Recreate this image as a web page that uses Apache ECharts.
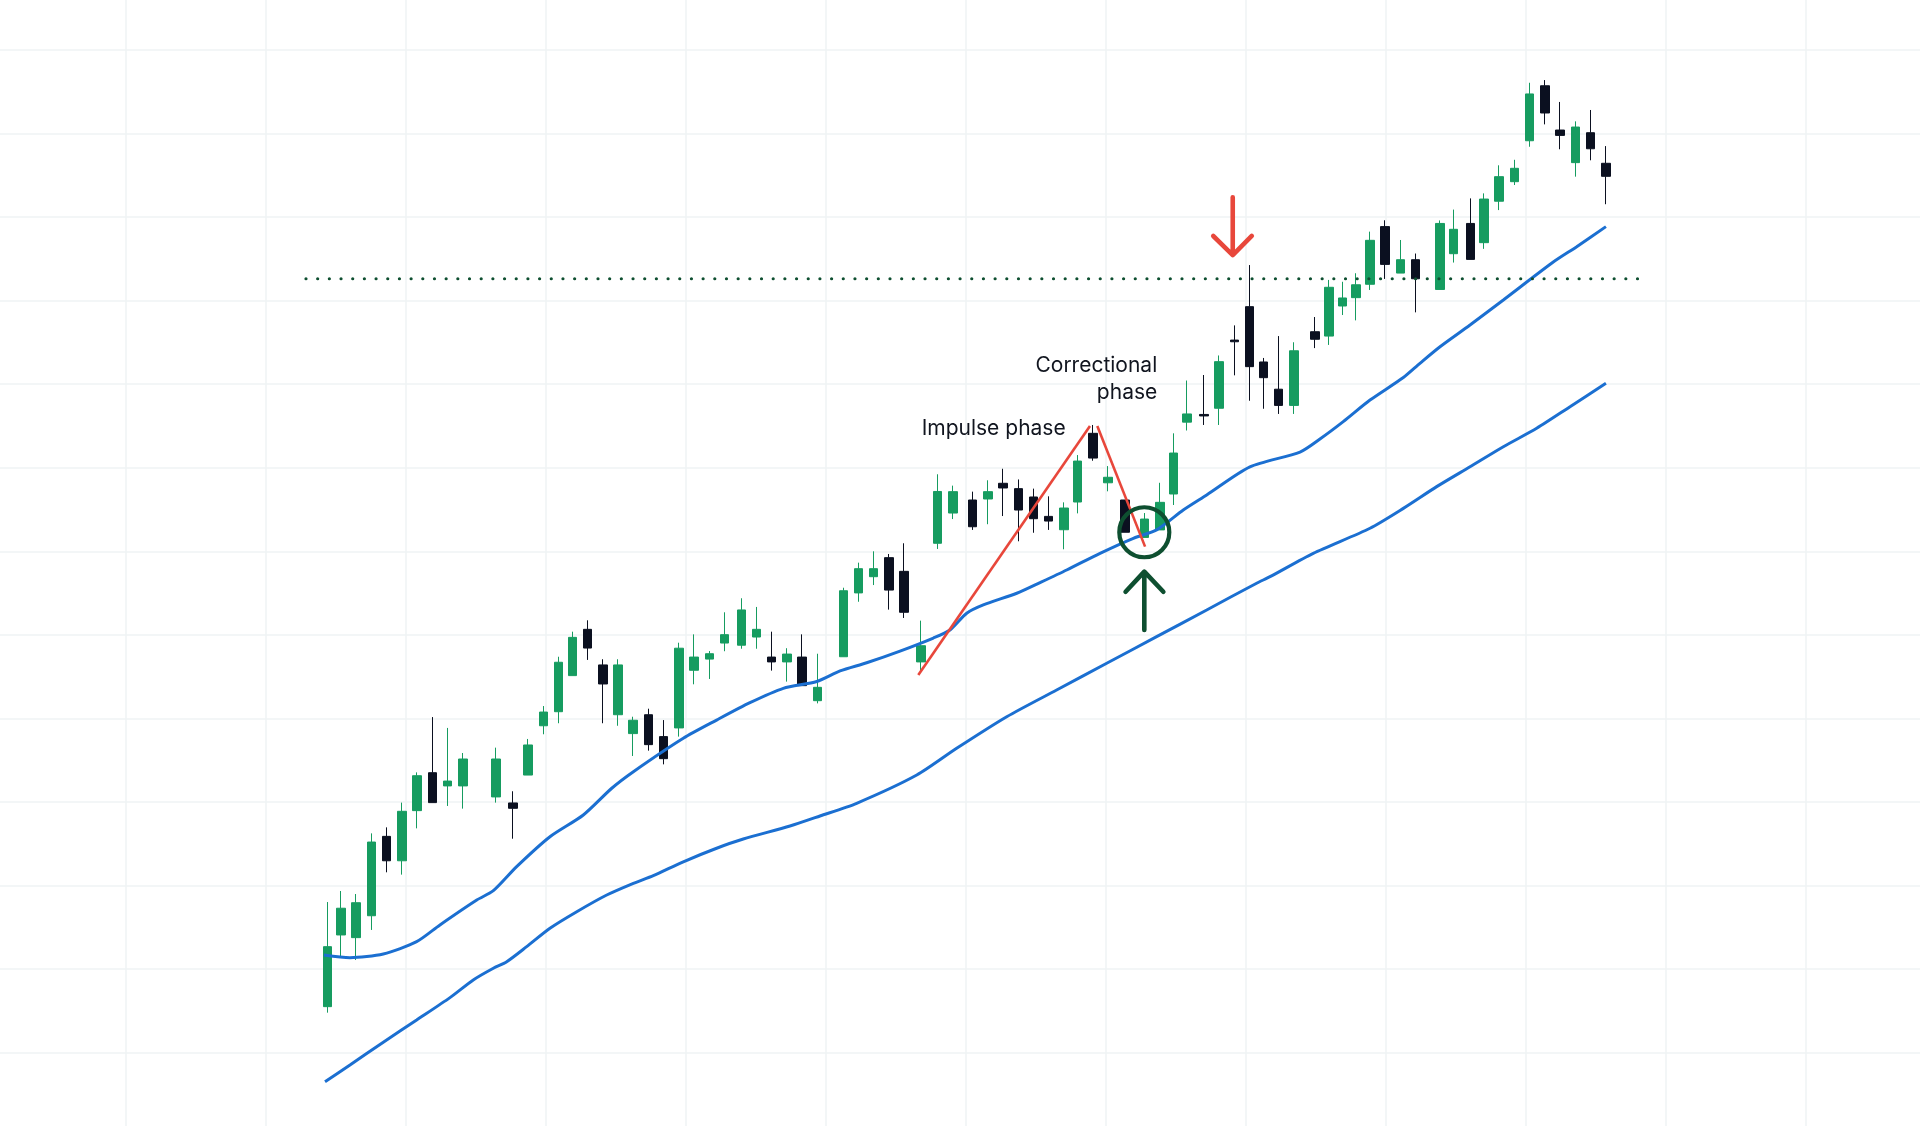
<!DOCTYPE html>
<html>
<head>
<meta charset="utf-8">
<title>Impulse and correction</title>
<style>
  html, body { margin: 0; padding: 0; background: #ffffff; }
  #chart { width: 1920px; height: 1126px; }
</style>
<script src="https://cdn.jsdelivr.net/npm/echarts@6/dist/echarts.min.js"></script>
</head>
<body>
<div id="chart"></div>
<script>
// ---- price data (session position, OHLC) ----
const sessions = [0.0, 0.9, 1.9, 2.9, 3.9, 4.9, 5.9, 6.9, 7.9, 8.9,
  11.1, 12.2, 13.2, 14.2, 15.2, 16.1, 17.1, 18.1, 19.1, 20.1,
  21.1, 22.1, 23.1, 24.1, 25.1, 26.1, 27.2, 28.2, 29.2, 30.2,
  31.2, 32.2, 33.9, 34.9, 35.9, 36.9, 37.9, 39.0, 40.1, 41.1,
  42.4, 43.4, 44.4, 45.4, 46.4, 47.4, 48.4, 49.3, 50.3, 51.3,
  52.4, 53.7, 54.7, 55.6, 56.5, 57.6, 58.6, 59.6, 60.6, 61.5,
  62.5, 63.5, 64.9, 65.8, 66.7, 67.6, 68.5, 69.5, 70.5, 71.5,
  73.1, 74.0, 75.1, 76.0, 77.0, 78.0, 79.0, 80.0, 81.0, 82.0,
  83.0, 84.0];
const opens = [102.75, 107.04, 106.88, 108.19, 112.94, 111.48, 114.48, 116.75, 115.96, 115.96,
  115.30, 114.94, 116.61, 119.56, 120.40, 122.56, 125.33, 123.20, 120.22, 119.09,
  120.22, 118.91, 119.43, 122.88, 123.55, 124.51, 124.38, 124.87, 123.67, 123.38,
  123.67, 121.06, 123.69, 127.51, 128.48, 129.62, 128.80, 123.38, 130.48, 132.29,
  133.07, 133.13, 134.07, 133.75, 133.25, 132.09, 131.29, 132.95, 137.06, 134.10,
  133.07, 130.83, 131.28, 133.43, 137.73, 138.19, 138.56, 142.64, 144.64, 141.33,
  139.70, 138.73, 143.14, 142.88, 144.68, 145.18, 145.98, 149.43, 146.65, 147.45,
  145.67, 147.81, 149.62, 148.47, 150.95, 152.12, 154.57, 157.86, 155.21, 153.26,
  155.05, 153.22];
const closes = [106.34, 108.64, 108.97, 112.60, 111.48, 114.44, 116.57, 114.96, 116.25, 117.57,
  117.57, 114.62, 118.41, 120.38, 123.36, 124.85, 124.21, 122.06, 123.20, 119.89,
  118.43, 117.59, 124.20, 123.67, 123.87, 125.01, 126.49, 125.33, 123.38, 123.85,
  121.96, 121.86, 127.64, 128.96, 128.96, 127.68, 126.35, 124.35, 133.58, 133.57,
  131.47, 133.57, 133.79, 132.47, 131.95, 131.81, 132.59, 135.40, 135.58, 134.43,
  131.14, 131.93, 132.93, 135.88, 138.22, 138.10, 141.35, 142.54, 141.05, 140.39,
  138.73, 142.00, 142.69, 145.80, 145.16, 145.95, 148.61, 147.17, 147.45, 146.31,
  149.62, 149.27, 147.47, 151.08, 152.42, 152.92, 157.37, 156.23, 154.89, 155.39,
  154.09, 152.44];
const lows = [102.39, 105.74, 105.54, 107.34, 110.79, 110.65, 113.42, 114.96, 114.76, 114.60,
  114.96, 112.80, 116.61, 119.05, 119.71, 122.56, 123.50, 119.71, 119.56, 117.75,
  118.07, 117.25, 118.91, 122.04, 122.36, 124.02, 124.17, 124.17, 122.86, 122.20,
  121.96, 120.90, 123.69, 126.98, 127.98, 126.51, 126.01, 122.86, 130.14, 131.93,
  131.28, 131.62, 132.11, 130.60, 131.11, 131.28, 130.12, 132.27, 135.42, 133.59,
  131.14, 130.83, 131.28, 132.77, 137.23, 137.56, 137.56, 140.53, 139.01, 138.53,
  138.22, 138.22, 142.16, 142.35, 144.14, 143.82, 145.64, 146.30, 146.65, 144.30,
  145.67, 147.28, 147.47, 148.10, 150.42, 151.92, 154.21, 155.55, 154.06, 152.42,
  153.40, 150.77];
const highs = [109.01, 109.67, 109.49, 113.12, 113.48, 114.96, 116.77, 120.08, 119.43, 117.93,
  118.25, 115.64, 118.77, 120.74, 123.69, 125.19, 125.87, 123.54, 123.54, 120.10,
  120.58, 119.90, 124.53, 125.03, 124.03, 126.35, 127.19, 126.67, 125.19, 124.20,
  125.03, 123.87, 127.82, 129.32, 130.00, 129.84, 130.48, 125.85, 134.61, 133.93,
  133.57, 134.25, 134.94, 134.30, 133.75, 133.29, 132.93, 135.76, 137.56, 135.10,
  133.07, 132.29, 134.10, 137.06, 140.22, 140.55, 141.72, 143.52, 147.13, 141.57,
  142.88, 142.51, 144.02, 146.24, 146.13, 146.64, 149.13, 149.81, 148.63, 147.82,
  149.80, 150.45, 151.12, 151.42, 153.10, 153.43, 158.04, 158.20, 156.89, 155.73,
  156.41, 154.25];

// ---- moving averages [session, value] ----
const fastMA = [[-0.22, 105.84], [1.49, 105.68], [3.68, 105.90], [5.87, 106.64], [7.40, 107.64],
  [9.82, 109.13], [10.91, 109.69], [12.44, 111.13], [14.63, 112.92], [16.82, 114.22],
  [18.69, 115.82], [20.11, 116.81], [23.39, 118.81], [25.58, 119.90], [27.77, 120.94],
  [29.96, 121.80], [32.16, 122.21], [33.69, 122.84], [35.44, 123.33], [37.63, 124.03],
  [39.82, 124.81], [40.91, 125.29], [42.01, 126.29], [43.10, 126.79], [45.30, 127.49],
  [46.83, 128.13], [48.58, 128.88], [50.77, 129.88], [52.96, 130.78], [54.49, 131.28],
  [56.24, 132.47], [57.78, 133.37], [60.62, 135.05], [63.91, 135.94], [65.22, 136.72],
  [66.75, 137.76], [68.51, 139.05], [70.70, 140.40], [71.79, 141.25], [73.11, 142.24],
  [75.08, 143.54], [77.27, 145.04], [80.55, 147.31], [82.09, 148.23], [84.01, 149.43]];
const slowMA = [[-0.15, 98.26], [1.49, 99.26], [3.68, 100.62], [5.87, 101.95], [8.06, 103.29],
  [9.59, 104.35], [10.91, 105.05], [11.79, 105.44], [13.10, 106.34], [14.63, 107.44],
  [16.39, 108.43], [18.36, 109.43], [20.11, 110.13], [21.42, 110.59], [23.39, 111.42],
  [25.58, 112.23], [27.33, 112.78], [30.40, 113.56], [32.37, 114.16], [34.78, 114.92],
  [38.73, 116.61], [41.35, 118.21], [44.64, 120.10], [47.92, 121.70], [51.21, 123.30],
  [54.49, 124.89], [57.78, 126.49], [61.06, 128.09], [61.94, 128.48], [64.78, 129.88],
  [68.51, 131.38], [70.70, 132.57], [72.89, 133.87], [75.08, 135.06], [77.27, 136.26],
  [79.46, 137.36], [81.65, 138.65], [84.01, 140.05]];

// ---- annotations ----
const resistanceLevel = 146.31;
const resistanceSpan = [-1.4, 86.1];
const impulseLeg = [[38.83, 122.60], [50.11, 137.50]];
const correctionLeg = [[50.59, 137.50], [53.73, 130.28]];
const bouncePoint = [53.68, 131.14];
// arrow: tail, tip, left wing, tip, right wing
const supportArrow = [[53.68, 125.29], [53.68, 128.78], [52.45, 127.58], [53.68, 128.78], [54.93, 127.58]];
const rejectArrow = [[59.49, 151.19], [59.49, 147.73], [58.21, 148.87], [59.49, 147.73], [60.74, 148.87]];
const impulseLabel = { text: 'Impulse phase', at: [39.05, 137.32] };
const correctionLabel = { text: 'Correctional\nphase', at: [54.53, 140.31] };

// ---- layout ----
const STEP_X = 140, STEP_Y = 83.55;         // background grid cell size
const GRID_LEFT = -14, GRID_TOP = 50 - STEP_Y;
const SLOT = 15.22, FIRST_X = 327.3;        // session spacing and first session centre
const X_MIN = -2, X_MAX = 87;
const P_MIN = 95, P_MAX = 165, P_STEP = 5;

const GREEN = '#169c60';
const DARK = '#0b1020';
const BLUE = '#1b6fd1';
const RED = '#e8473b';
const DEEP_GREEN = '#0e4f30';
const TEXT = '#11151f';

const candles = sessions.map((t, i) => [t, opens[i], closes[i], lows[i], highs[i]]);

const chart = echarts.init(document.getElementById('chart'), null, { renderer: 'canvas' });

const hiddenAxisBits = {
  axisLine: { show: false }, axisTick: { show: false }, axisLabel: { show: false }
};

const labelStyle = {
  show: true, fontFamily: 'Inter', fontSize: 21, color: TEXT, lineHeight: 27,
  position: 'inside', verticalAlign: 'middle', opacity: 1
};

chart.setOption({
  animation: false,
  backgroundColor: '#ffffff',
  grid: [
    { left: GRID_LEFT, top: GRID_TOP, width: STEP_X * 14, height: STEP_Y * 14,
      containLabel: false, outerBoundsMode: 'none' },
    { left: FIRST_X + X_MIN * SLOT, top: GRID_TOP, width: (X_MAX - X_MIN) * SLOT, height: STEP_Y * 14,
      containLabel: false, outerBoundsMode: 'none' }
  ],
  xAxis: [
    { type: 'value', gridIndex: 0, min: 0, max: 14, interval: 1, ...hiddenAxisBits,
      splitLine: { show: true, lineStyle: { color: '#eff3f4', width: 1.5 } } },
    { type: 'value', gridIndex: 1, min: X_MIN, max: X_MAX, ...hiddenAxisBits,
      splitLine: { show: false } }
  ],
  yAxis: [
    { type: 'value', gridIndex: 0, min: P_MIN, max: P_MAX, interval: P_STEP, ...hiddenAxisBits,
      splitLine: { show: true, lineStyle: { color: '#eff3f4', width: 1.5 } } },
    { type: 'value', gridIndex: 1, min: P_MIN, max: P_MAX, ...hiddenAxisBits,
      splitLine: { show: false } }
  ],
  series: [
    {
      name: 'Price', type: 'candlestick', xAxisIndex: 1, yAxisIndex: 1,
      data: candles, encode: { x: 0, y: [1, 2, 3, 4] },
      barWidth: 9, z: 2, silent: true,
      itemStyle: { color: GREEN, color0: DARK, borderColor: GREEN, borderColor0: DARK, borderWidth: 1 }
    },
    {
      name: 'Fast MA', type: 'line', xAxisIndex: 1, yAxisIndex: 1, data: fastMA,
      smooth: 0.25, showSymbol: false, z: 3, silent: true,
      lineStyle: { color: BLUE, width: 3 }
    },
    {
      name: 'Slow MA', type: 'line', xAxisIndex: 1, yAxisIndex: 1, data: slowMA,
      smooth: 0.25, showSymbol: false, z: 3, silent: true,
      lineStyle: { color: BLUE, width: 3 }
    },
    {
      name: 'Resistance', type: 'line', xAxisIndex: 1, yAxisIndex: 1,
      data: resistanceSpan.map(t => [t, resistanceLevel]),
      showSymbol: false, z: 3, silent: true,
      lineStyle: { color: DEEP_GREEN, width: 3.2, type: [0.01, 11.67], cap: 'round' }
    },
    {
      name: 'Impulse', type: 'line', xAxisIndex: 1, yAxisIndex: 1, data: impulseLeg,
      showSymbol: false, z: 4, silent: true, lineStyle: { color: RED, width: 2.6 }
    },
    {
      name: 'Correction', type: 'line', xAxisIndex: 1, yAxisIndex: 1, data: correctionLeg,
      showSymbol: false, z: 4, silent: true, lineStyle: { color: RED, width: 2.6 }
    },
    {
      name: 'Bounce', type: 'scatter', xAxisIndex: 1, yAxisIndex: 1, data: [bouncePoint],
      symbol: 'circle', symbolSize: 50, z: 5, silent: true,
      itemStyle: { color: 'rgba(0,0,0,0)', borderColor: DEEP_GREEN, borderWidth: 4.2, opacity: 1 }
    },
    {
      name: 'Support arrow', type: 'line', xAxisIndex: 1, yAxisIndex: 1, data: supportArrow,
      showSymbol: false, z: 5, silent: true,
      lineStyle: { color: DEEP_GREEN, width: 4.6, cap: 'round', join: 'round' }
    },
    {
      name: 'Reject arrow', type: 'line', xAxisIndex: 1, yAxisIndex: 1, data: rejectArrow,
      showSymbol: false, z: 5, silent: true,
      lineStyle: { color: RED, width: 4.6, cap: 'round', join: 'round' }
    },
    {
      name: 'Labels', type: 'scatter', xAxisIndex: 1, yAxisIndex: 1, symbolSize: 0, z: 6, silent: true,
      itemStyle: { opacity: 1 },
      data: [
        { value: impulseLabel.at, label: { ...labelStyle, formatter: impulseLabel.text, align: 'left' } },
        { value: correctionLabel.at, label: { ...labelStyle, formatter: correctionLabel.text, align: 'right' } }
      ]
    }
  ]
});
</script>
</body>
</html>
